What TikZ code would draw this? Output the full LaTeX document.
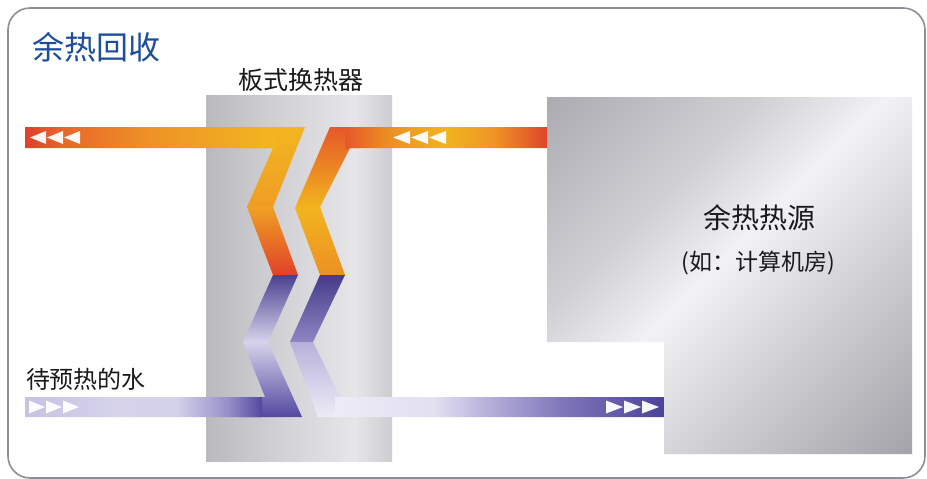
\documentclass[tikz,border=0pt]{standalone}
\usepackage{fontspec}
\newfontfamily\cjk{Noto Sans CJK SC}
\definecolor{titleblue}{HTML}{1C4E9C}
\definecolor{txt}{HTML}{1A1A1A}
\definecolor{frame}{HTML}{8E8E96}
% metal
\definecolor{mA}{HTML}{ADACB2}
\definecolor{mB}{HTML}{CFCED3}
\definecolor{mC}{HTML}{F2F1F4}
\definecolor{mD}{HTML}{D4D3D7}
\definecolor{mE}{HTML}{A3A2A8}
\pgfdeclarehorizontalshading{metal}{100bp}{color(0bp)=(mA); color(15bp)=(mA); color(35bp)=(mB); color(48bp)=(mC); color(62bp)=(mD); color(86bp)=(mE); color(100bp)=(mE)}
\definecolor{xA}{HTML}{B9B9BE}
\definecolor{xB}{HTML}{D2D2D6}
\definecolor{xC}{HTML}{E6E6E9}
\definecolor{xD}{HTML}{CDCDD1}
\pgfdeclarehorizontalshading{hxmetal}{100bp}{color(0bp)=(xA); color(25bp)=(xA); color(45bp)=(xB); color(65bp)=(xC); color(75bp)=(xD); color(100bp)=(xD)}
% hot bars
\definecolor{hA1}{HTML}{E0402A}
\definecolor{hA2}{HTML}{E8682A}
\definecolor{hA3}{HTML}{EE9226}
\definecolor{hA4}{HTML}{F2B620}
\pgfdeclarehorizontalshading{hotA}{100bp}{color(0bp)=(hA1); color(25bp)=(hA1); color(33bp)=(hA2); color(50bp)=(hA3); color(75bp)=(hA4); color(100bp)=(hA4)}
\definecolor{hB1}{HTML}{E6582A}
\definecolor{hB2}{HTML}{EC9024}
\definecolor{hB3}{HTML}{F2B41E}
\definecolor{hB4}{HTML}{EE9426}
\definecolor{hB5}{HTML}{E0442A}
\pgfdeclarehorizontalshading{hotB}{100bp}{color(0bp)=(hB1); color(25bp)=(hB1); color(36bp)=(hB2); color(50bp)=(hB3); color(62bp)=(hB4); color(75bp)=(hB5); color(100bp)=(hB5)}
% cold bars
\definecolor{cA1}{HTML}{C6C2E2}
\definecolor{cA2}{HTML}{D6D3EB}
\definecolor{cA3}{HTML}{D4D1EA}
\definecolor{cA4}{HTML}{958EC8}
\definecolor{cA5}{HTML}{5248A0}
\pgfdeclarehorizontalshading{coldA}{100bp}{color(0bp)=(cA1); color(25bp)=(cA1); color(45bp)=(cA2); color(57bp)=(cA3); color(68bp)=(cA4); color(75bp)=(cA5); color(100bp)=(cA5)}
\definecolor{cB1}{HTML}{EDEBF6}
\definecolor{cB2}{HTML}{E2E0F1}
\definecolor{cB3}{HTML}{B7B1DB}
\definecolor{cB4}{HTML}{7D74B9}
\definecolor{cB5}{HTML}{4C4299}
\pgfdeclarehorizontalshading{coldB}{100bp}{color(0bp)=(cB1); color(25bp)=(cB1); color(40bp)=(cB2); color(48bp)=(cB3); color(60bp)=(cB4); color(75bp)=(cB5); color(100bp)=(cB5)}
\tikzset{
  lbl/.style={inner sep=0pt, text=txt},
  metalbox/.style={shading=metal, shading angle=-45},
  arrowtri/.style={fill=white, fill opacity=0.95},
}
\begin{document}
\begin{tikzpicture}[x=1pt,y=-1pt]
\useasboundingbox (0,0) rectangle (927,479);
\fill[white] (0,0) rectangle (927,479);
% outer frame
\draw[frame, line width=1.6pt, rounded corners=22pt] (8,8) rectangle (925,478);
% heat exchanger box
\shade[shading=hxmetal] (206,95) rectangle (392,461);
% heat source
\shade[metalbox] (547,97) -- (912,97) -- (912,454) -- (664,454) -- (664,342) -- (547,342) -- cycle;
% ---- pipe 1 hot
\begin{scope}
\clip (25,127) -- (305,127) -- (273,207) -- (298,275) -- (273,275) -- (247,207) -- (273,148) -- (25,148) -- cycle;
\shade[top color=hA4, bottom color=hA3!70!hA4] (240,127) rectangle (310,207);
\shade[top color=hA3!60!hA4, bottom color=hA1] (240,207) rectangle (310,275.5);
\shade[shading=hotA] (25,127) rectangle (276,148);
\end{scope}
% ---- pipe 2 hot
\begin{scope}
\clip (547,127) -- (330,127) -- (295,208) -- (320,275) -- (345,275) -- (320,207) -- (350,148) -- (547,148) -- cycle;
\shade[top color=hB1, bottom color=hB3] (290,127) rectangle (360,208);
\shade[top color=hB3, bottom color=hB2] (290,208) rectangle (360,275.5);
\shade[shading=hotB] (345,127) rectangle (547,148);
\end{scope}
% ---- pipe 1 cold
\begin{scope}
\clip (273,275) -- (298,275) -- (268,342) -- (302,417) -- (25,417) -- (25,397) -- (265,397) -- (243,342) -- cycle;
\shade[top color=cA5!90!black, bottom color=cA2] (238,275) rectangle (305,342);
\shade[top color=cA2, bottom color=cA5] (238,342) rectangle (305,417);
\shade[shading=coldA] (25,397) rectangle (262,417);
\end{scope}
% ---- pipe 2 cold
\begin{scope}
\clip (320,275) -- (345,275) -- (313,342) -- (340,397) -- (664,397) -- (664,417) -- (318,417) -- (290,342) -- cycle;
\shade[top color=cB5!90!black, bottom color=cB4!70!cB3] (285,275) rectangle (350,342);
\shade[top color=cB3, bottom color=cB1] (285,342) rectangle (350,417);
\shade[shading=coldB] (335,397) rectangle (664,417);
\end{scope}
% ---- flow triangles
\foreach \t in {30,47,64} \fill[arrowtri] (\t,137.5) -- (\t+16,131) -- (\t+16,144) -- cycle;
\foreach \t in {393,411,429} \fill[arrowtri] (\t,137.5) -- (\t+17,131) -- (\t+17,144) -- cycle;
\foreach \t in {29,46,63} \fill[arrowtri] (\t,400.5) -- (\t+16,407) -- (\t,413.5) -- cycle;
\foreach \t in {606,624,642} \fill[arrowtri] (\t,400.5) -- (\t+17,407) -- (\t,413.5) -- cycle;
% ---- texts
\node[lbl, text=titleblue, font=\cjk\fontsize{32}{36}\selectfont] (title) at (96.5,47.5) {余热回收};
\node[lbl, font=\cjk\fontsize{25}{28}\selectfont] (hx) at (301,80) {板式换热器};
\node[lbl, font=\cjk\fontsize{28}{32}\selectfont] (src) at (759.5,218) {余热热源};
\node[lbl, font=\cjk\fontsize{23}{26}\selectfont] (srcnote) at (758,263.5) {(如：计算机房)};
\node[lbl, font=\cjk\fontsize{24}{27}\selectfont] (water) at (86,379) {待预热的水};
\end{tikzpicture}
\end{document}
